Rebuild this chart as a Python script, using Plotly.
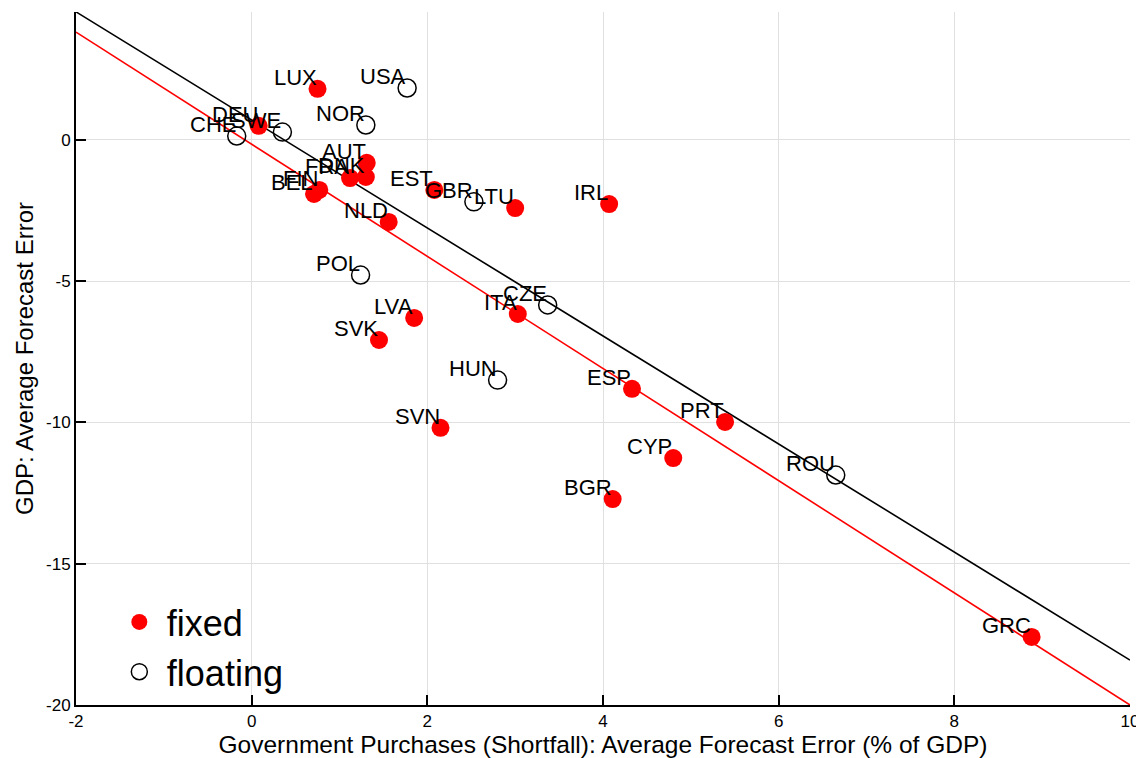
import plotly.graph_objects as go

# Fixed exchange-rate countries
fixed_names = ["LUX", "DEU", "AUT", "DNK", "FRA", "FIN", "BEL", "NLD", "EST", "LTU",
               "IRL", "ITA", "LVA", "SVK", "SVN", "ESP", "PRT", "CYP", "BGR", "GRC"]
fixed_x = [0.75, 0.08, 1.31, 1.30, 1.12, 0.77, 0.71, 1.56, 2.08, 3.00,
           4.07, 3.03, 1.85, 1.45, 2.15, 4.33, 5.39, 4.80, 4.11, 8.88]
fixed_y = [1.81, 0.50, -0.81, -1.31, -1.35, -1.77, -1.91, -2.90, -1.77, -2.41,
           -2.27, -6.16, -6.30, -7.08, -10.19, -8.81, -9.98, -11.26, -12.71, -17.59]

# Floating exchange-rate countries
float_names = ["USA", "NOR", "CHE", "SWE", "GBR", "POL", "CZE", "HUN", "ROU"]
float_x = [1.77, 1.30, -0.17, 0.35, 2.53, 1.24, 3.37, 2.80, 6.65]
float_y = [1.84, 0.53, 0.14, 0.28, -2.19, -4.78, -5.84, -8.50, -11.86]

# Fitted lines (intercept, slope)
fit_float = (0.71, -1.912)
fit_fixed = (-0.15, -1.985)
fit_x = [-2, 10]

x_ticks = [-2, 0, 2, 4, 6, 8, 10]
y_ticks = [-20, -15, -10, -5, 0]

FONT = "Liberation Sans, Arial, Helvetica, sans-serif"

fig = go.Figure()

fig.add_trace(go.Scatter(
    x=fit_x, y=[fit_float[0] + fit_float[1] * v for v in fit_x],
    mode="lines", line=dict(color="black", width=1.6), showlegend=False, hoverinfo="skip"))
fig.add_trace(go.Scatter(
    x=fit_x, y=[fit_fixed[0] + fit_fixed[1] * v for v in fit_x],
    mode="lines", line=dict(color="red", width=1.6), showlegend=False, hoverinfo="skip"))

fig.add_trace(go.Scatter(
    x=fixed_x, y=fixed_y, mode="markers", name="fixed", text=fixed_names,
    marker=dict(color="red", size=18, line=dict(width=0))))
fig.add_trace(go.Scatter(
    x=float_x, y=float_y, mode="markers", name="floating", text=float_names,
    marker=dict(symbol="circle-open", color="black", size=18, line=dict(width=1.5))))

for names, xs, ys in [(fixed_names, fixed_x, fixed_y), (float_names, float_x, float_y)]:
    for n, xv, yv in zip(names, xs, ys):
        fig.add_annotation(x=xv, y=yv, text=n, showarrow=False,
                           xanchor="right", yanchor="bottom", xshift=1, yshift=-3,
                           font=dict(family=FONT, size=22, color="black"))

# page body has an 8px margin, so the figure is offset by 8px
fig.update_layout(
    width=1136, height=750,
    margin=dict(l=68, r=14, t=4, b=53, autoexpand=False),
    paper_bgcolor="white", plot_bgcolor="white",
    font=dict(family=FONT, color="black"),
    legend=dict(x=0.034, y=0.163, xanchor="left", yanchor="top",
                bgcolor="rgba(0,0,0,0)", font=dict(family=FONT, size=36),
                itemsizing="trace", itemwidth=45, tracegroupgap=0),
    xaxis=dict(range=[-2, 10], tickvals=x_ticks, ticktext=[str(t) for t in x_ticks],
               showgrid=True, gridcolor="#e0e0e0", gridwidth=1, zeroline=False,
               showline=True, linecolor="black", linewidth=2,
               ticks="inside", ticklen=10, tickwidth=2, tickcolor="black",
               tickfont=dict(size=17), mirror=False, automargin=False,
               title=dict(text="Government Purchases (Shortfall): Average Forecast Error (% of GDP)",
                          font=dict(size=24.5), standoff=4)),
    yaxis=dict(range=[-20, 4.53], tickvals=y_ticks, ticktext=[str(t) for t in y_ticks],
               showgrid=True, gridcolor="#e0e0e0", gridwidth=1, zeroline=False,
               showline=True, linecolor="black", linewidth=2,
               ticks="inside", ticklen=10, tickwidth=2, tickcolor="black",
               tickfont=dict(size=17), mirror=False, automargin=False,
               title=dict(text="GDP: Average Forecast Error", font=dict(size=24), standoff=6)),
)
fig.write_html("out.html")
